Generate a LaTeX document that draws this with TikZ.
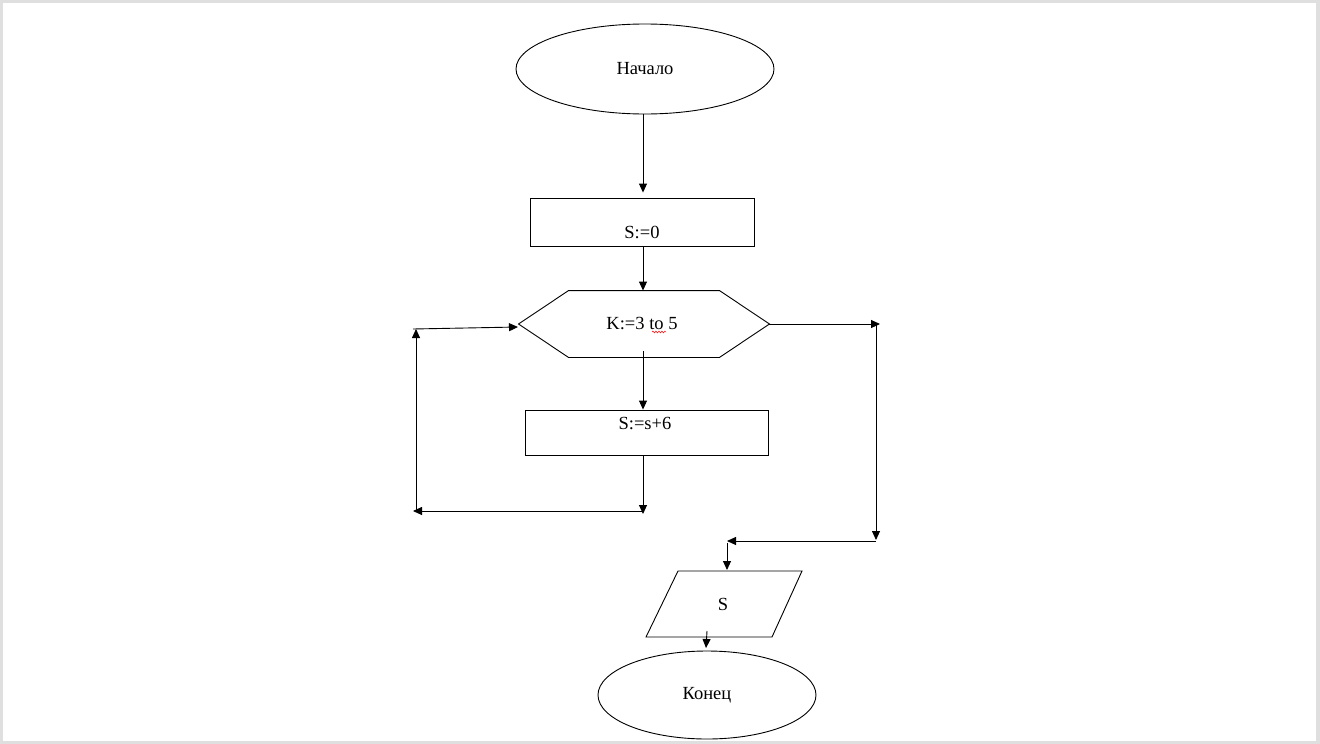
\documentclass[tikz,border=0pt]{standalone}
\usepackage{fontspec}
\setmainfont{Liberation Serif}
\usetikzlibrary{arrows.meta,shapes.geometric,calc,decorations.pathmorphing}
\begin{document}
\begin{tikzpicture}[x=1pt,y=-1pt, line width=0.9pt,
  arr/.style={-{Triangle[length=9pt,width=8pt]}},
  lbl/.style={font=\fontsize{18.5}{20}\selectfont, inner sep=0pt},
  term/.style={draw, ellipse, inner sep=0pt},
  proc/.style={draw, rectangle, inner sep=0pt},
  frame/.style={fill=gray!25}]
\useasboundingbox (0,0) rectangle (1320,744);
\fill[frame] (0,0) rectangle (1320,744);
\fill[white] (2.5,2.5) rectangle (1316,740.5);

% nodes
\node[term, minimum width=258, minimum height=90] (start) at (645,69) {};
\node[lbl] (tstart) at (645,69) {Начало};

\node[proc, minimum width=224, minimum height=48] (s0) at (642,222) {};
\node[lbl] (ts0) at (642,232) {S:=0};

\node[inner sep=0pt, minimum width=250, minimum height=66] (hex) at (644,324) {};
\draw ($(hex.west)+(0,0)$) -- ($(hex.north west)+(50,0)$) -- ($(hex.north east)+(-50,0)$)
  -- (hex.east) -- ($(hex.south east)+(-50,0)$) -- ($(hex.south west)+(50,0)$) -- cycle;
\node[lbl] (thex) at (642,324) {K:=3 to 5};
\draw[red, line width=0.5pt, decorate, decoration={snake, amplitude=0.9pt, segment length=3pt}] (652,332) -- (666,332);

\node[proc, minimum width=243, minimum height=45] (s6) at (646.5,432.5) {};
\node[lbl] (ts6) at (645,424) {S:=s+6};

\coordinate (p1) at (678,571);
\coordinate (p2) at (802,571);
\coordinate (p3) at (772,637);
\coordinate (p4) at (646,637);
\draw (p1) -- (p2) -- (p3) -- (p4) -- cycle;
\node[lbl] (tout) at (723,604) {S};

\node[term, minimum width=218, minimum height=88] (stop) at (707,695) {};
\node[lbl] (tstop) at (707,695) {Конец};

% helper coordinates
\coordinate (cx) at (643,0);
\coordinate (lb) at (643,514);
\coordinate (lr) at (643,511);
\coordinate (ll) at (413,511);
\coordinate (lv1) at (416,511);
\coordinate (lv2) at (416,329);
\coordinate (lt) at (413,329);
\coordinate (hin) at (518,327);
\coordinate (r1) at (880,324);
\coordinate (r2) at (876,324);
\coordinate (r3) at (876,540);
\coordinate (r3b) at (876,541);
\coordinate (r4) at (727,541);
\coordinate (r5) at (727,543);
\coordinate (r6) at (727,570);
\coordinate (o1) at (707,631);
\coordinate (o2) at (706,648);

% connectors
\draw[arr] (start.south -| cx) -- ([yshift=5pt]s0.north -| cx);
\draw[arr] (s0.south -| cx) -- (hex.north -| cx);
\draw[arr] ([yshift=6pt]hex.south -| cx) -- (s6.north -| cx);
\draw[arr] (s6.south -| cx) -- (lb);
\draw[arr] (lr) -- (ll);
\draw[arr] (lv1) -- (lv2);
\draw[arr] (lt) -- (hin);
\draw[arr] (hex.east) -- (r1);
\draw[arr] (r2) -- (r3);
\draw[arr] (r3b) -- (r4);
\draw[arr] (r5) -- (r6);
\draw[arr] (o1) -- (o2);
\end{tikzpicture}
\end{document}
